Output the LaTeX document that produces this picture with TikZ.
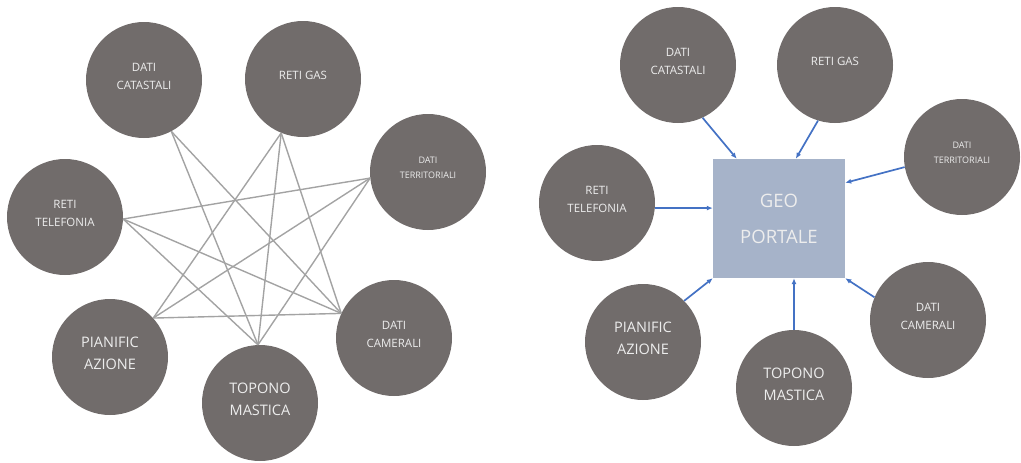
\documentclass[tikz,border=0pt]{standalone}
\usepackage{fontspec}
\setmainfont{Open Sans}
\usetikzlibrary{arrows.meta,calc}
\definecolor{circgray}{HTML}{716C6B}
\definecolor{txtgray}{HTML}{EDEDED}
\definecolor{linegray}{HTML}{A3A3A3}
\definecolor{geoblue}{HTML}{A6B3C9}
\definecolor{arrblue}{HTML}{4472C4}
\begin{document}
\begin{tikzpicture}[x=1pt,y=-1pt,
  bub/.style={circle,fill=circgray,minimum size=116pt,inner sep=0pt},
  btxt/.style={text=txtgray,align=center,yshift=4pt,inner sep=0pt,font=\fontsize{11.5}{18}\selectfont},
  btxtsm/.style={btxt,font=\fontsize{9}{15}\selectfont},
  btxtbig/.style={btxt,font=\fontsize{14.5}{22}\selectfont},
  web/.style={draw=linegray,line width=1.4pt},
  feed/.style={draw=arrblue,line width=1.7pt,-{Latex[length=6pt,width=5pt]}},
  geobox/.style={fill=geoblue,minimum width=132pt,minimum height=119pt,inner sep=0pt,text=txtgray,align=center,font=\fontsize{18.5}{36}\selectfont}]
\useasboundingbox (0,0) rectangle (1021,463);
% ---------- left: everyone to everyone ----------
\node[bub,label={[btxt]center:DATI\\CATASTALI}] (cat) at (144,80) {};
\node[bub,label={[btxt]center:RETI GAS}] (gas) at (303,79) {};
\node[bub,label={[btxtsm]center:DATI\\TERRITORIALI}] (ter) at (428,172) {};
\node[bub,label={[btxt]center:RETI\\TELEFONIA}] (tel) at (65,217) {};
\node[bub,label={[btxtbig]center:PIANIFIC\\AZIONE}] (pia) at (110,357) {};
\node[bub,label={[btxtbig]center:TOPONO\\MASTICA}] (top) at (260,403) {};
\node[bub,label={[btxt]center:DATI\\CAMERALI}] (cam) at (394,338) {};
\coordinate (catp) at (cat.-62);
\coordinate (gasp) at (gas.-112);
\coordinate (terp) at (ter.186);
\coordinate (telp) at (tel.-2);
\coordinate (piap) at (pia.42);
\coordinate (topp) at (top.92);
\coordinate (camp) at (cam.155);
\draw[web] (catp) -- (topp);
\draw[web] (catp) -- (camp);
\draw[web] (gasp) -- (piap);
\draw[web] (gasp) -- (topp);
\draw[web] (gasp) -- (camp);
\draw[web] (terp) -- (telp);
\draw[web] (terp) -- (piap);
\draw[web] (terp) -- (topp);
\draw[web] (telp) -- (topp);
\draw[web] (telp) -- (camp);
\draw[web] (piap) -- (camp);
% ---------- right: hub ----------
\node[geobox] (geo) at (779,218.5) {GEO\\PORTALE};
\node[bub,label={[btxt]center:DATI\\CATASTALI}] (cat2) at (678,65) {};
\node[bub,label={[btxt]center:RETI GAS}] (gas2) at (835,65) {};
\node[bub,label={[btxtsm]center:DATI\\TERRITORIALI}] (ter2) at (962,157) {};
\node[bub,label={[btxt]center:RETI\\TELEFONIA}] (tel2) at (597,203) {};
\node[bub,label={[btxtbig]center:PIANIFIC\\AZIONE}] (pia2) at (643,342) {};
\node[bub,label={[btxtbig]center:TOPONO\\MASTICA}] (top2) at (794,388) {};
\node[bub,label={[btxt]center:DATI\\CAMERALI}] (cam2) at (928,320) {};
\draw[feed] (cat2.-65) -- ([xshift=24pt]geo.north west);
\draw[feed] (gas2.-107) -- ([xshift=83pt]geo.north west);
\draw[feed] (ter2.190) -- ([yshift=-24pt]geo.north east);
\draw[feed] (tel2.-5) -- (tel2.-5 -| geo.west);
\draw[feed] (pia2.45) -- (geo.south west);
\draw[feed] (top2.north) -- (top2.north |- geo.south);
\draw[feed] (cam2.157) -- (geo.south east);
\end{tikzpicture}
\end{document}
